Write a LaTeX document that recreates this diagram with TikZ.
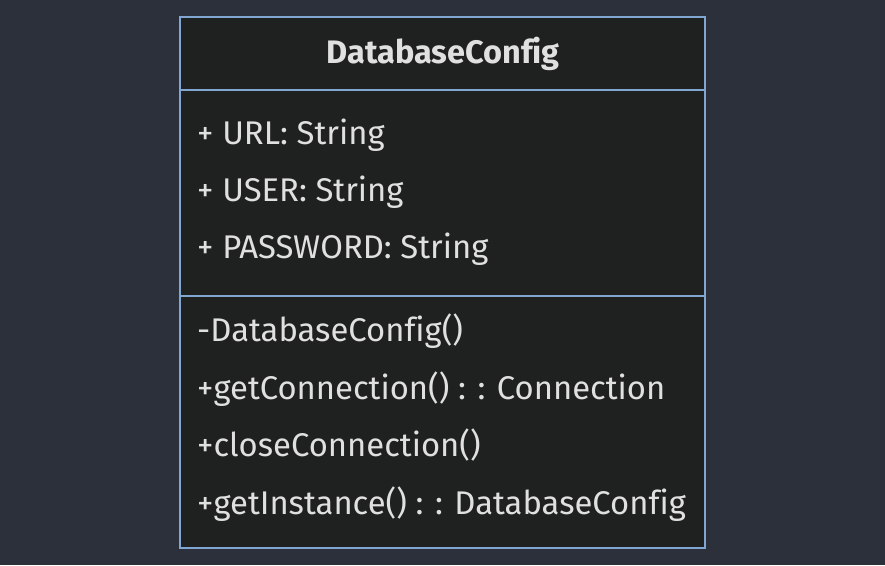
\documentclass[tikz,border=0pt]{standalone}
\usepackage{fontspec}
\setmainfont[Ligatures={NoCommon}]{Fira Sans}
\definecolor{bg}{HTML}{2B303B}
\definecolor{boxfill}{HTML}{1F2020}
\definecolor{boxline}{HTML}{81A6D2}
\definecolor{txt}{HTML}{E0E0E0}
\begin{document}
\begin{tikzpicture}[x=1pt,y=-1pt,
  member/.style={anchor=base west,inner sep=0pt,text=txt,font=\fontsize{32.8}{36}\selectfont},
  title/.style={anchor=base,inner sep=0pt,text=txt,font=\fontsize{32.5}{36}\selectfont\bfseries}]
\fill[bg] (0,0) rectangle (885,565);
\useasboundingbox (0,0) rectangle (885,565);
\draw[boxline,fill=boxfill,line width=1.5pt] (180,17) rectangle (705,548);
\draw[boxline,line width=1.5pt] (180,90) -- (705,90);
\draw[boxline,line width=1.5pt] (180,296) -- (705,296);
\node[title] (t) at (443,63) {DatabaseConfig};
\node[member] (a1) at (197,144) {+ URL: String};
\node[member] (a2) at (197,201) {+ USER: String};
\node[member] (a3) at (197,258) {+ PASSWORD: String};
\node[member] (m1) at (197,341) {-DatabaseConfig()};
\node[member] (m2) at (197,399) {+getConnection() : : Connection};
\node[member] (m3) at (197,456) {+closeConnection()};
\node[member] (m4) at (197,514) {+getInstance() : : DatabaseConfig};
\end{tikzpicture}
\end{document}
